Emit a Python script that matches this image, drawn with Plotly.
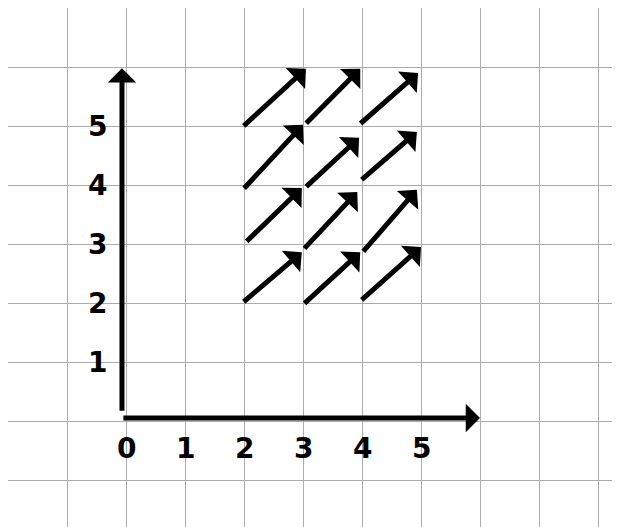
import plotly.graph_objects as go

# tick labels (hand-written on the sketch)
x_tick_vals = [0, 1, 2, 3, 4, 5]
x_tick_text = ["0", "1", "2", "3", "4", "5"]
y_tick_vals = [1, 2, 3, 4, 5]
y_tick_text = ["1", "2", "3", "4", "5"]

# vector field arrows (tail -> head)
start_x = [1.97, 1.98, 2.02, 1.97, 3.03, 3.03, 3.00, 3.00, 3.95, 3.97, 4.00, 3.97]
start_y = [4.98, 3.92, 3.02, 2.00, 5.02, 3.95, 2.90, 1.97, 5.02, 4.07, 2.85, 2.03]
end_x = [3.05, 3.00, 2.98, 2.98, 3.97, 3.95, 3.92, 3.97, 4.95, 4.93, 4.93, 5.00]
end_y = [5.97, 5.02, 3.95, 2.86, 5.97, 4.80, 3.88, 2.86, 5.90, 4.90, 3.92, 2.95]

# axes extents
axis_x_max = 6.0
axis_y_max = 5.98

fig = go.Figure()
fig.add_trace(go.Scatter(x=[None], y=[None], showlegend=False))

arrow_style = dict(xref="x", yref="y", axref="x", ayref="y", text="", showarrow=True,
                   arrowhead=1, arrowsize=0.95, arrowwidth=5, arrowcolor="#000", standoff=0)

annotations = []
# axes
annotations.append(dict(x=axis_x_max, y=0.05, ax=-0.07, ay=0.05, **arrow_style))
annotations.append(dict(x=-0.068, y=axis_y_max, ax=-0.068, ay=0.15, **arrow_style))
# vectors
for sx, sy, ex, ey in zip(start_x, start_y, end_x, end_y):
    annotations.append(dict(x=ex, y=ey, ax=sx, ay=sy, **arrow_style))
# tick labels
label_font = dict(family="DejaVu Sans", size=28, color="#000", weight="bold")
for v, t in zip(x_tick_vals, x_tick_text):
    annotations.append(dict(x=v, y=-0.47, xref="x", yref="y", text=t, showarrow=False,
                            font=label_font))
for v, t in zip(y_tick_vals, y_tick_text):
    annotations.append(dict(x=-0.48, y=v, xref="x", yref="y", text=t, showarrow=False,
                            font=label_font))

fig.update_layout(
    width=620, height=527, autosize=False,
    margin=dict(l=0, r=0, t=0, b=0),
    paper_bgcolor="white", plot_bgcolor="white",
    annotations=annotations,
    showlegend=False,
)
fig.update_xaxes(range=[-118 / 59, 502 / 59], dtick=1, tick0=0, showgrid=True,
                 gridcolor="#ababab", gridwidth=1.3, zeroline=False,
                 showticklabels=False, ticks="", fixedrange=True)
fig.update_yaxes(range=[-114 / 59, 413 / 59], dtick=1, tick0=0, showgrid=True,
                 gridcolor="#ababab", gridwidth=1.3, zeroline=False,
                 showticklabels=False, ticks="", fixedrange=True)

fig.write_html("out.html")
